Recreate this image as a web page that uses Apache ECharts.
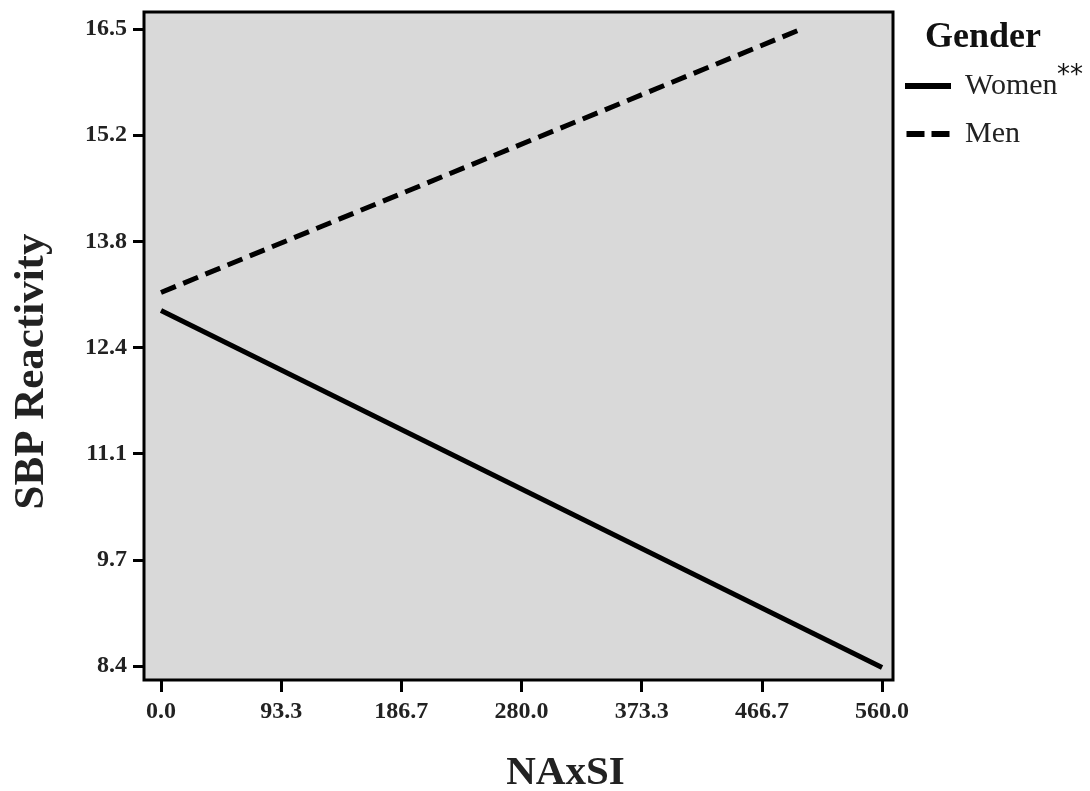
<!DOCTYPE html>
<html><head><meta charset="utf-8">
<script src="https://cdn.jsdelivr.net/npm/echarts@6/dist/echarts.min.js"></script>
<style>html,body{margin:0;padding:0;background:#fff}#c{width:1090px;height:791px}</style>
</head><body><div id="c"></div>
<script>
const xTickValues = [0, 93.333, 186.667, 280, 373.333, 466.667, 560];
const xTickLabels = ['0.0', '93.3', '186.7', '280.0', '373.3', '466.7', '560.0'];
const yTickValues = [8.4, 9.75, 11.1, 12.45, 13.8, 15.15, 16.5];
const yTickLabels = ['8.4', '9.7', '11.1', '12.4', '13.8', '15.2', '16.5'];
const seriesNames = ['Women', 'Men'];
const womenX = [0, 560];
const womenY = [12.92, 8.38];
const menX = [0, 496];
const menY = [13.15, 16.49];

const chart = echarts.init(document.getElementById('c'));
const serif = 'Liberation Serif';
function lbl(values, labels) {
  return function (v) {
    for (let i = 0; i < values.length; i++) if (Math.abs(values[i] - v) < 1e-6) return labels[i];
    return '';
  };
}
chart.setOption({
  animation: false,
  backgroundColor: '#fff',
  title: { text: 'Gender', left: 920, top: 15, textStyle: { fontFamily: serif, fontWeight: 'bold', fontSize: 36, color: '#111' } },
  legend: {
    orient: 'vertical', left: 900, top: 66, itemWidth: 46, itemHeight: 6, itemGap: 18,
    data: [
      { name: seriesNames[0], icon: 'rect' },
      { name: seriesNames[1], icon: 'path://M0,0h18v6h-18z M25,0h18v6h-18z' }
    ],
    itemStyle: { color: '#000' },
    textStyle: { fontFamily: serif, fontSize: 30, color: '#222', padding: [0, 0, 0, 9] }
  },
  graphic: [{ type: 'text', left: 1057, top: 63, style: { text: '**', font: '26px "DejaVu Sans"', fill: '#111' } }],
  grid: { left: 144, right: 197, top: 12, bottom: 111, show: true, backgroundColor: '#d9d9d9', borderColor: '#000', borderWidth: 3, containLabel: false, outerBoundsMode: 'none' },
  xAxis: {
    type: 'value', min: -13.2, max: 568.5,
    name: 'NAxSI', nameLocation: 'middle', nameGap: 73,
    nameTextStyle: { fontFamily: serif, fontWeight: 'bold', fontSize: 41, color: '#222', verticalAlign: 'top', padding: [0, 0, 0, 94] },
    axisLine: { show: false, onZero: false }, splitLine: { show: false },
    axisTick: { show: true, length: 12, customValues: xTickValues, lineStyle: { color: '#000', width: 3 } },
    axisLabel: { customValues: xTickValues, formatter: lbl(xTickValues, xTickLabels), margin: 20, fontFamily: serif, fontWeight: 'bold', fontSize: 24, color: '#222' }
  },
  yAxis: {
    type: 'value', min: 8.222, max: 16.716,
    name: 'SBP Reactivity', nameLocation: 'middle', nameGap: 91, nameRotate: 90,
    nameTextStyle: { fontFamily: serif, fontWeight: 'bold', fontSize: 43, color: '#222', padding: [0, 51, 0, 0] },
    axisLine: { show: false, onZero: false }, splitLine: { show: false },
    axisTick: { show: true, length: 11, customValues: yTickValues, lineStyle: { color: '#000', width: 3 } },
    axisLabel: { customValues: yTickValues, formatter: lbl(yTickValues, yTickLabels), margin: 17, fontFamily: serif, fontWeight: 'bold', fontSize: 24, color: '#222' }
  },
  series: [
    { name: 'Women', type: 'line', symbol: 'none', data: womenX.map((x, i) => [x, womenY[i]]), lineStyle: { color: '#000', width: 5, cap: 'butt' }, itemStyle: { color: '#000' } },
    { name: 'Men', type: 'line', symbol: 'none', data: menX.map((x, i) => [x, menY[i]]), lineStyle: { color: '#000', width: 5, type: [16, 8], cap: 'butt' }, itemStyle: { color: '#000' } }
  ]
});
</script></body></html>
